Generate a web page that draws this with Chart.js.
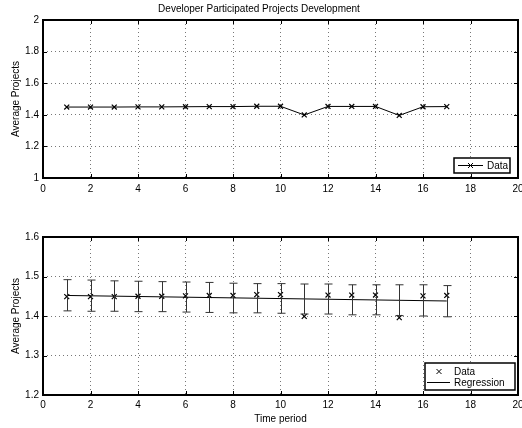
<!DOCTYPE html>
<html>
<head>
<meta charset="utf-8">
<script src="https://cdn.jsdelivr.net/npm/chart.js@4.4.0/dist/chart.umd.min.js"></script>
<style>
  html, body { margin: 0; padding: 0; background: #fff; overflow: hidden; width: 522px; height: 428px; }
  canvas { display: block; position: absolute; left: 0; }
  #topChart { top: 0; }
  #bottomChart { top: 205px; }
</style>
</head>
<body>
<canvas id="topChart" width="540" height="205"></canvas>
<canvas id="bottomChart" width="540" height="223"></canvas>
<script>
// data
const periods = [1, 2, 3, 4, 5, 6, 7, 8, 9, 10, 11, 12, 13, 14, 15, 16, 17];
const avgProjects = [1.449, 1.449, 1.449, 1.450, 1.450, 1.451, 1.452, 1.452, 1.454, 1.454,
                     1.399, 1.453, 1.453, 1.453, 1.396, 1.451, 1.452];
const regX = [1, 17];
const regY = [1.452, 1.438];
const errHigh = [1.492, 1.491, 1.489, 1.488, 1.487, 1.486, 1.485, 1.483, 1.482, 1.482,
                 1.481, 1.481, 1.479, 1.479, 1.479, 1.479, 1.477];
const errLow = [1.413, 1.412, 1.412, 1.411, 1.411, 1.410, 1.409, 1.408, 1.408, 1.407,
                1.405, 1.405, 1.403, 1.403, 1.401, 1.400, 1.398];

const xTicks = [0, 2, 4, 6, 8, 10, 12, 14, 16, 18, 20];
const yTicksTop = [1, 1.2, 1.4, 1.6, 1.8, 2];
const yTicksBottom = [1.2, 1.3, 1.4, 1.5, 1.6];

const FONT = '"Liberation Sans", Arial, Helvetica, sans-serif';
Chart.defaults.font.family = FONT;
Chart.defaults.font.size = 10;
Chart.defaults.color = '#000';

// box round the plot area, with inward tick marks like matlab
const framePlugin = {
  id: 'frame',
  afterDraw(chart) {
    const { ctx, chartArea: a, scales } = chart;
    ctx.save();
    ctx.strokeStyle = '#000';
    ctx.lineWidth = 1;
    ctx.beginPath();
    scales.x.ticks.forEach(t => {
      const px = Math.round(scales.x.getPixelForValue(t.value)) + 0.5;
      ctx.moveTo(px, a.bottom); ctx.lineTo(px, a.bottom - 4);
      ctx.moveTo(px, a.top); ctx.lineTo(px, a.top + 4);
    });
    scales.y.ticks.forEach(t => {
      const py = Math.round(scales.y.getPixelForValue(t.value)) + 0.5;
      ctx.moveTo(a.left, py); ctx.lineTo(a.left + 4, py);
      ctx.moveTo(a.right, py); ctx.lineTo(a.right - 4, py);
    });
    ctx.stroke();
    ctx.lineWidth = 2;
    ctx.strokeRect(a.left, a.top, a.right - a.left, a.bottom - a.top);
    ctx.restore();
  }
};

function drawCross(ctx, x, y, r) {
  ctx.moveTo(x - r, y - r); ctx.lineTo(x + r, y + r);
  ctx.moveTo(x - r, y + r); ctx.lineTo(x + r, y - r);
}

// legend box inside the plot area
const boxLegendPlugin = {
  id: 'boxLegend',
  afterDraw(chart, args, opts) {
    const { ctx, chartArea: a } = chart;
    const left = a.right - opts.right - opts.width;
    const top = a.bottom - opts.bottom - opts.height;
    ctx.save();
    ctx.fillStyle = '#fff';
    ctx.fillRect(left, top, opts.width, opts.height);
    ctx.strokeStyle = '#000';
    ctx.lineWidth = 1.5;
    ctx.strokeRect(left, top, opts.width, opts.height);
    ctx.lineWidth = 1;
    ctx.font = '10px ' + FONT;
    ctx.textBaseline = 'middle';
    ctx.fillStyle = '#000';
    opts.entries.forEach(e => {
      const y = top + e.dy;
      ctx.beginPath();
      if (e.line) { ctx.moveTo(left + e.line[0], y); ctx.lineTo(left + e.line[1], y); }
      if (e.mark != null) drawCross(ctx, left + e.mark, y, 2.5);
      ctx.stroke();
      ctx.fillText(e.label, left + e.textX, y + 0.5);
    });
    ctx.restore();
  }
};

// vertical error bars with caps
const errorBarPlugin = {
  id: 'errorBars',
  afterDatasetsDraw(chart, args, opts) {
    if (!opts.high) return;
    const { ctx, scales: { x, y } } = chart;
    ctx.save();
    ctx.strokeStyle = '#333';
    ctx.lineWidth = 1;
    ctx.beginPath();
    opts.x.forEach((xv, i) => {
      const px = Math.round(x.getPixelForValue(xv)) + 0.5;
      const hi = y.getPixelForValue(opts.high[i]);
      const lo = y.getPixelForValue(opts.low[i]);
      ctx.moveTo(px, hi); ctx.lineTo(px, lo);
      ctx.moveTo(px - 4, hi); ctx.lineTo(px + 4, hi);
      ctx.moveTo(px - 4, lo); ctx.lineTo(px + 4, lo);
    });
    ctx.stroke();
    ctx.restore();
  }
};

function axes(yMin, yMax, yTicks, xHeight, xPad, xTitle) {
  return {
    x: {
      type: 'linear', min: 0, max: 20,
      afterBuildTicks: s => { s.ticks = xTicks.map(v => ({ value: v })); },
      ticks: { padding: xPad, maxRotation: 0, callback: v => String(v) },
      grid: { color: '#777', lineWidth: 1, drawTicks: false, tickLength: 0 },
      border: { display: false, dash: [1, 3] },
      title: { display: !!xTitle, text: xTitle || '', padding: { top: 0, bottom: 3 } },
      afterFit: s => { s.height = xHeight; }
    },
    y: {
      type: 'linear', min: yMin, max: yMax,
      afterBuildTicks: s => { s.ticks = yTicks.map(v => ({ value: v })); },
      ticks: { padding: 4, callback: v => String(v) },
      grid: { color: '#777', lineWidth: 1, drawTicks: false, tickLength: 0 },
      border: { display: false, dash: [1, 3] },
      title: { display: true, text: 'Average Projects', padding: { top: 10, bottom: 0 } },
      afterFit: s => { s.width = 43; }
    }
  };
}

const pts = periods.map((p, i) => ({ x: p, y: avgProjects[i] }));

new Chart(document.getElementById('topChart'), {
  type: 'line',
  data: {
    datasets: [{
      label: 'Data',
      data: pts,
      borderColor: '#000',
      borderWidth: 1,
      pointStyle: 'crossRot',
      pointRadius: 3.5,
      pointBorderWidth: 1.2,
      pointBorderColor: '#000',
      tension: 0
    }]
  },
  options: {
    responsive: false,
    animation: false,
    layout: { padding: { left: 0, right: 22, top: 0, bottom: 0 } },
    scales: axes(1, 2, yTicksTop, 27, 5, null),
    plugins: {
      legend: { display: false },
      tooltip: { enabled: false },
      title: {
        display: true,
        text: 'Developer Participated Projects Development',
        font: { size: 10, weight: 'normal' },
        padding: { top: 3, bottom: 5 }
      },
      boxLegend: {
        right: 8, bottom: 5, width: 56, height: 15,
        entries: [{ label: 'Data', dy: 7.5, line: [4, 29], mark: 16.5, textX: 33 }]
      }
    }
  },
  plugins: [framePlugin, boxLegendPlugin]
});

new Chart(document.getElementById('bottomChart'), {
  type: 'line',
  data: {
    datasets: [{
      label: 'Data',
      data: pts,
      showLine: false,
      pointStyle: 'crossRot',
      pointRadius: 3.5,
      pointBorderWidth: 1.2,
      pointBorderColor: '#000'
    }, {
      label: 'Regression',
      data: regX.map((x, i) => ({ x: x, y: regY[i] })),
      borderColor: '#000',
      borderWidth: 1,
      pointRadius: 0,
      tension: 0
    }]
  },
  options: {
    responsive: false,
    animation: false,
    layout: { padding: { left: 0, right: 22, top: 32, bottom: 0 } },
    scales: axes(1.2, 1.6, yTicksBottom, 33, 4, 'Time period'),
    plugins: {
      legend: { display: false },
      tooltip: { enabled: false },
      errorBars: { x: periods, high: errHigh, low: errLow },
      boxLegend: {
        right: 3, bottom: 5, width: 90, height: 27,
        entries: [
          { label: 'Data', dy: 8.5, mark: 14, textX: 29 },
          { label: 'Regression', dy: 19.5, line: [2, 25], textX: 29 }
        ]
      }
    }
  },
  plugins: [errorBarPlugin, framePlugin, boxLegendPlugin]
});
</script>
</body>
</html>
